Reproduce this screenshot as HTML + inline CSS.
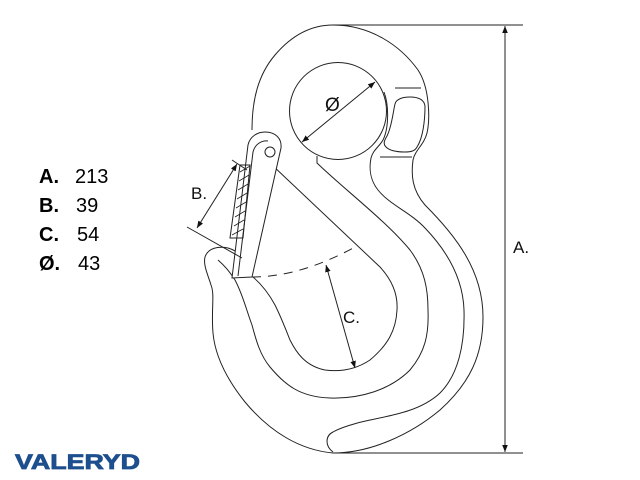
<!DOCTYPE html>
<html><head><meta charset="utf-8"><style>
html,body{margin:0;padding:0;background:#fff;}
svg{display:block;}
</style></head><body>
<svg width="640" height="480" viewBox="0 0 640 480" xmlns="http://www.w3.org/2000/svg">
<defs>
<marker id="ar" viewBox="0 0 10 10" refX="10" refY="5" markerWidth="7" markerHeight="7" orient="auto-start-reverse"><path d="M0,1 L10,5 L0,9 Z" fill="#111"/></marker>
</defs>
<g fill="none" stroke="#222" stroke-width="1">
<path d="M252,130 C252,100 258,75 275,55 C292,35 312,25 333,25 C370,25 400,45 418,70 C430,88 430,120 427,133 C424,145 415,150 413,160 C411,175 412,190 425,205 C455,235 483,270 483,317 C483,355 470,383 440,410 C410,435 370,453 333,453"/>
<path d="M333,453 C300,450 270,432 245,402 C225,377 215,355 213,333 C211,310 215,295 211,285 C208,275 203,265 205,257 C208,248 218,246 228,248 C235,250 240,254 243,258"/>
<path d="M218,260 C225,266 230,272 235,280 C243,295 247,312 252,325 C256,340 260,355 270,367 C285,385 300,397 330,398 C360,399 390,390 410,370 C425,352 429,335 428,310 C428,290 425,270 410,250 C385,220 345,190 317,163 L317,156"/>
<path d="M253,147 L380,267 C392,280 398,295 397,310 C396,330 388,345 370,360 C355,370 340,372 325,370 C305,366 296,352 290,340 C284,325 281,317 275,305 C268,292 260,283 253,277"/>
<path d="M384,92 C389,105 389,128 383,140 C379,147 373,150 371,158 C369,168 370,180 378,190 C390,205 410,212 425,228 C448,252 463,280 464,310 C465,345 458,375 440,393 C422,410 395,415 370,420 C355,423 340,428 333,432 C325,436 325,446 333,452"/>
<circle cx="338" cy="111" r="48.5"/>
<path d="M395,104 C396,99 403,97 410,97 C418,97 424,99 425,106 C425,120 423,138 417,147 C415,151 411,152 405,152 C397,152 390,151 386,147 C383,144 384,141 387,136 C392,126 393,112 395,104 Z"/>
<path d="M395,88 L421,88"/>
<path d="M380,157 L412,157"/>
<path d="M232,278 L248,145 C250,136 258,132 265,132 C275,132 282,138 281,148 L252,277 Z" fill="#fff"/>
<path d="M238,276 L253,152 C255,144 262,140 268,141"/>
<circle cx="270" cy="152" r="5"/>
<path d="M240,165 L250,165 L243,238 L230,238 Z"/>
<g stroke-width="0.8">
<path d="M240,172 L250,166 M239,181 L249,175 M238,190 L248,184 M237,199 L247,193 M236,208 L246,202 M235,217 L245,211 M234,226 L244,220 M232,235 L243,229"/>
</g>
<path d="M232,160 L247,170"/>
<path d="M187,227 L242,258"/>
<path d="M237,164 L197,228" marker-start="url(#ar)" marker-end="url(#ar)"/>
<path d="M252,277 Q300,277 355,247" stroke-dasharray="9,7"/>
<path d="M326,265 L355,368" marker-start="url(#ar)" marker-end="url(#ar)"/>
<path d="M302,142 L375,82" marker-start="url(#ar)" marker-end="url(#ar)"/>
<path d="M333,25 L523,25 M333,453 L523,453"/>
<path d="M505,26 L505,452" marker-start="url(#ar)" marker-end="url(#ar)"/>
</g>
<g font-family="Liberation Sans, sans-serif" fill="#111" font-size="17">
<text x="191" y="199">B.</text>
<text x="343" y="323">C.</text>
<text x="325" y="111" font-size="19">Ø</text>
<text x="513" y="253">A.</text>
</g>
<g font-family="Liberation Sans, sans-serif" fill="#000" font-size="20">
<text x="39" y="183" font-weight="bold">A.</text><text x="75" y="183">213</text>
<text x="39" y="212" font-weight="bold">B.</text><text x="76" y="212">39</text>
<text x="39" y="241" font-weight="bold">C.</text><text x="77" y="241">54</text>
<text x="39" y="270" font-weight="bold">Ø.</text><text x="78" y="270">43</text>
</g>
<text x="15" y="469" font-family="Liberation Sans, sans-serif" font-weight="bold" font-size="21" fill="#1d4f8e" stroke="#1d4f8e" stroke-width="0.8" textLength="125" lengthAdjust="spacingAndGlyphs">VALERYD</text>
</svg>
</body></html>
